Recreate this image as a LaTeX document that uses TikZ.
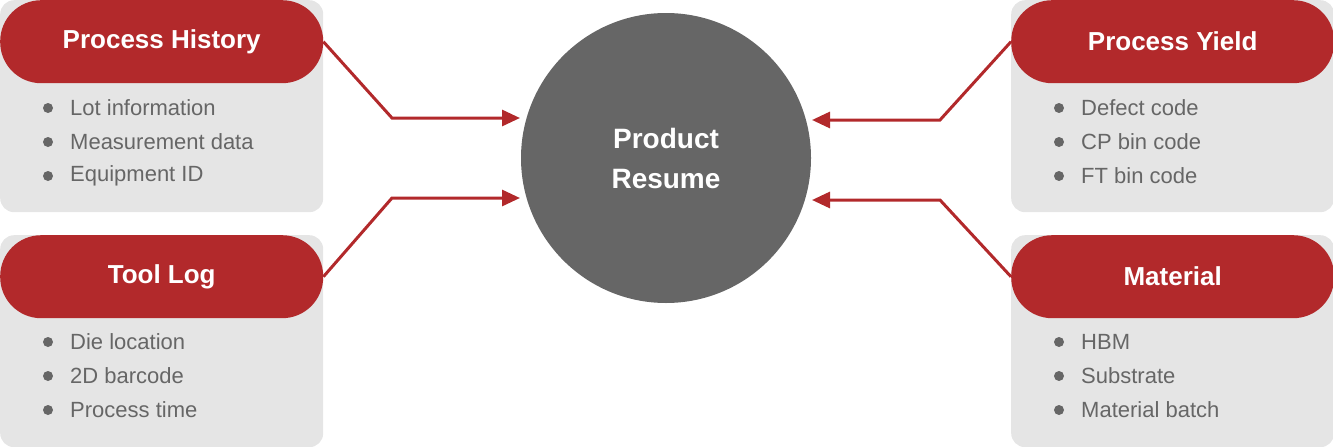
\documentclass[tikz,border=0pt]{standalone}
\usepackage{fontspec}
\setmainfont{Liberation Sans}
\usetikzlibrary{arrows.meta}
\definecolor{rd}{HTML}{B2292B}
\definecolor{bx}{HTML}{E5E5E5}
\definecolor{tx}{HTML}{666666}
\begin{document}
\begin{tikzpicture}[x=1pt,y=-1pt,
  panel/.style={fill=bx,rounded corners=14pt,minimum width=323pt,minimum height=212pt,inner sep=0pt,draw=none},
  head/.style={fill=rd,rounded corners=41pt,minimum width=323pt,minimum height=83pt,inner sep=0pt,text=white,font=\fontsize{26}{30}\selectfont\bfseries},
  item/.style={text=tx,font=\fontsize{22}{26}\selectfont,anchor=west,inner sep=0pt},
  dot/.style={circle,fill=tx,inner sep=0pt,minimum size=10pt},
  conn/.style={draw=rd,line width=3pt,-{Triangle[length=18pt,width=16pt]}}]
\useasboundingbox (0,0) rectangle (1333,447);
\node[panel,anchor=north west] (p1) at (0,0) {};
\node[panel,anchor=north west] (p2) at (0,235) {};
\node[panel,anchor=north west] (p3) at (1011,0) {};
\node[panel,anchor=north west] (p4) at (1011,235) {};
\node[head,anchor=north west] (h1) at (0,0) {Process History};
\node[head,anchor=north west] (h2) at (0,235) {Tool Log};
\node[head,anchor=north west] (h3) at (1011,0) {Process Yield};
\node[head,anchor=north west] (h4) at (1011,235) {Material};
\foreach \n/\x/\y/\t in {a1/0/108/Lot information,a2/0/142/Measurement data,a3/0/176/Equipment ID,
  b1/0/342/Die location,b2/0/376/2D barcode,b3/0/410/Process time,
  c1/1011/108/Defect code,c2/1011/142/CP bin code,c3/1011/176/FT bin code,
  d1/1011/342/HBM,d2/1011/376/Substrate,d3/1011/410/Material batch}{
  \node[dot] (\n d) at (\x+48,\y) {};
  \node[item] (\n) at (\x+70,\y) {\t};
}
\node[circle,fill=tx,minimum size=290pt,inner sep=0pt,text=white,align=center,
  font=\fontsize{28}{40}\selectfont\bfseries] (pr) at (666,158) {Product\\Resume};
\coordinate (k1) at (392,118); \coordinate (e1) at (520,118);
\coordinate (k2) at (392,198); \coordinate (e2) at (520,198);
\coordinate (k3) at (940,120); \coordinate (e3) at (812,120);
\coordinate (k4) at (940,200); \coordinate (e4) at (812,200);
\draw[conn] (h1.east) -- (k1) -- (e1);
\draw[conn] (h2.east) -- (k2) -- (e2);
\draw[conn] (h3.west) -- (k3) -- (e3);
\draw[conn] (h4.west) -- (k4) -- (e4);
\end{tikzpicture}
\end{document}
